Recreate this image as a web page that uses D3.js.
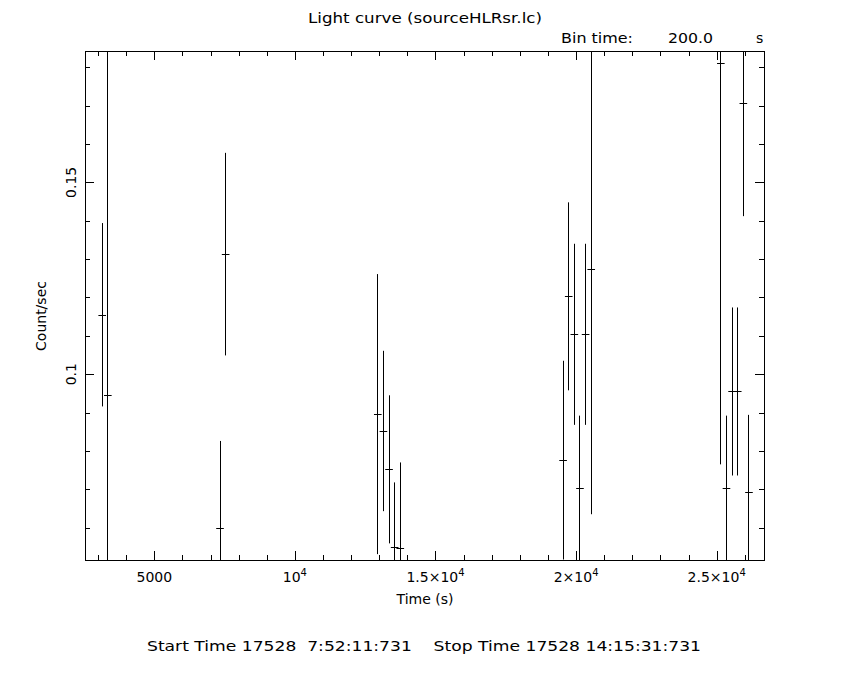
<!DOCTYPE html>
<html>
<head>
<meta charset="utf-8">
<script src="https://cdn.jsdelivr.net/npm/d3@7"></script>
<style>
  body { margin: 0; background: #fff; }
  svg { display: block; }
  text { font-family: "DejaVu Sans", sans-serif; fill: #000; }
</style>
</head>
<body>
<svg id="chart" width="850" height="680"></svg>
<script>
// ---- Data ----
const times = [3130, 3330, 7320, 7520, 12930, 13130, 13330, 13530, 13730,
               19520, 19720, 19920, 20120, 20320, 20520,
               25130, 25330, 25530, 25730, 25930, 26130];
const rates = [0.1155, 0.0946, 0.0598, 0.1313, 0.0896, 0.0852, 0.0752, 0.0550, 0.0546,
               0.0776, 0.1203, 0.1104, 0.0703, 0.1104, 0.1274,
               0.1811, 0.0703, 0.0955, 0.0955, 0.1708, 0.0692];
const errors = [0.0239, 0.1000, 0.0228, 0.0264, 0.0365, 0.0209, 0.0193, 0.0168, 0.0224,
                0.0259, 0.0245, 0.0236, 0.0189, 0.0236, 0.0639,
                0.1046, 0.0189, 0.0219, 0.0219, 0.0296, 0.0202];
const binHalf = 100; // half of 200 s bin
const xMajorTicks = [5000, 10000, 15000, 20000, 25000];
const xMajorLabels = [["5000", ""], ["10", "4"], ["1.5\u00d710", "4"], ["2\u00d710", "4"], ["2.5\u00d710", "4"]];
const yMajorTicks = [0.1, 0.15];
const yMajorLabels = ["0.1", "0.15"];
const xDomain = [2536, 26682];
const yDomain = [0.05157, 0.18425];

const title = "Light curve (sourceHLRsr.lc)";
const xTitle = "Time (s)";
const yTitle = "Count/sec";
const footer = "Start Time 17528  7:52:11:731    Stop Time 17528 14:15:31:731";

// ---- Layout ----
const L = 85, R = 764, T = 51, B = 560;
const svg = d3.select("#chart");
const x = d3.scaleLinear().domain(xDomain).range([L, R]);
const y = d3.scaleLinear().domain(yDomain).range([B, T]);

const xMinor = d3.range(3000, 27000, 1000).filter(v => v % 5000 !== 0);
const yMinor = d3.range(6, 19).map(v => v / 100).filter(v => Math.abs(v - 0.1) > 1e-9 && Math.abs(v - 0.15) > 1e-9);

function styleAxis(g) {
  g.select(".domain").remove();
  g.selectAll("line").attr("stroke", "#000").attr("stroke-width", 1).attr("shape-rendering", "crispEdges");
  g.selectAll("text").remove();
}

// bottom & top axes (ticks inward)
svg.append("g").attr("transform", `translate(0,${B})`)
  .call(d3.axisBottom(x).tickValues(xMinor).tickSize(-5).tickFormat("")).call(styleAxis);
svg.append("g").attr("transform", `translate(0,${B})`)
  .call(d3.axisBottom(x).tickValues(xMajorTicks).tickSize(-9).tickFormat("")).call(styleAxis);
svg.append("g").attr("transform", `translate(0,${T})`)
  .call(d3.axisTop(x).tickValues(xMinor).tickSize(-5).tickFormat("")).call(styleAxis);
svg.append("g").attr("transform", `translate(0,${T})`)
  .call(d3.axisTop(x).tickValues(xMajorTicks).tickSize(-9).tickFormat("")).call(styleAxis);
// left & right axes
svg.append("g").attr("transform", `translate(${L},0)`)
  .call(d3.axisLeft(y).tickValues(yMinor).tickSize(-5).tickFormat("")).call(styleAxis);
svg.append("g").attr("transform", `translate(${L},0)`)
  .call(d3.axisLeft(y).tickValues(yMajorTicks).tickSize(-9).tickFormat("")).call(styleAxis);
svg.append("g").attr("transform", `translate(${R},0)`)
  .call(d3.axisRight(y).tickValues(yMinor).tickSize(-5).tickFormat("")).call(styleAxis);
svg.append("g").attr("transform", `translate(${R},0)`)
  .call(d3.axisRight(y).tickValues(yMajorTicks).tickSize(-9).tickFormat("")).call(styleAxis);

// frame
svg.append("rect").attr("x", L + 0.5).attr("y", T + 0.5)
  .attr("width", R - L - 1 + 1).attr("height", B - T)
  .attr("fill", "none").attr("stroke", "#000").attr("stroke-width", 1);

// clip
svg.append("clipPath").attr("id", "clip").append("rect")
  .attr("x", L).attr("y", T).attr("width", R - L).attr("height", B - T);

const pts = times.map((t, i) => ({ t, r: rates[i], e: errors[i] }));
const gData = svg.append("g").attr("clip-path", "url(#clip)")
  .attr("stroke", "#000").attr("stroke-width", 1);
gData.selectAll("line.v").data(pts).join("line").attr("class", "v")
  .attr("x1", d => Math.round(x(d.t)) + 0.5).attr("x2", d => Math.round(x(d.t)) + 0.5)
  .attr("y1", d => y(d.r + d.e)).attr("y2", d => y(d.r - d.e));
gData.selectAll("line.h").data(pts).join("line").attr("class", "h")
  .attr("x1", d => x(d.t - binHalf) - 0.5).attr("x2", d => x(d.t + binHalf) + 1.5)
  .attr("y1", d => Math.round(y(d.r)) + 0.5).attr("y2", d => Math.round(y(d.r)) + 0.5);

// x tick labels
xMajorTicks.forEach((v, i) => {
  const t = svg.append("text").attr("x", x(v)).attr("y", 582)
    .attr("text-anchor", "middle").attr("font-size", 14);
  t.append("tspan").text(xMajorLabels[i][0]);
  if (xMajorLabels[i][1]) {
    t.append("tspan").attr("dy", -6).attr("font-size", 10).text(xMajorLabels[i][1]);
  }
});
// y tick labels (rotated)
yMajorTicks.forEach((v, i) => {
  svg.append("text").attr("transform", `translate(76,${y(v)}) rotate(-90)`)
    .attr("text-anchor", "middle").attr("font-size", 14).text(yMajorLabels[i]);
});

// titles
svg.append("text").attr("x", 425).attr("y", 23).attr("text-anchor", "middle")
  .attr("font-size", 14).attr("textLength", 234).attr("lengthAdjust", "spacingAndGlyphs").text(title);
svg.append("text").attr("x", 561).attr("y", 43).attr("font-size", 14)
  .attr("textLength", 72).attr("lengthAdjust", "spacingAndGlyphs").text("Bin time:");
svg.append("text").attr("x", 668).attr("y", 43).attr("font-size", 14)
  .attr("textLength", 45).attr("lengthAdjust", "spacingAndGlyphs").text("200.0");
svg.append("text").attr("x", 756).attr("y", 43).attr("font-size", 14).text("s");
svg.append("text").attr("x", 425).attr("y", 604).attr("text-anchor", "middle")
  .attr("font-size", 14).text(xTitle);
svg.append("text").attr("transform", `translate(46,316) rotate(-90)`)
  .attr("text-anchor", "middle").attr("font-size", 14).text(yTitle);
svg.append("text").attr("x", 147).attr("y", 651).attr("font-size", 14)
  .attr("textLength", 554).attr("lengthAdjust", "spacingAndGlyphs")
  .attr("xml:space", "preserve").style("white-space", "pre").text(footer);
</script>
</body>
</html>
